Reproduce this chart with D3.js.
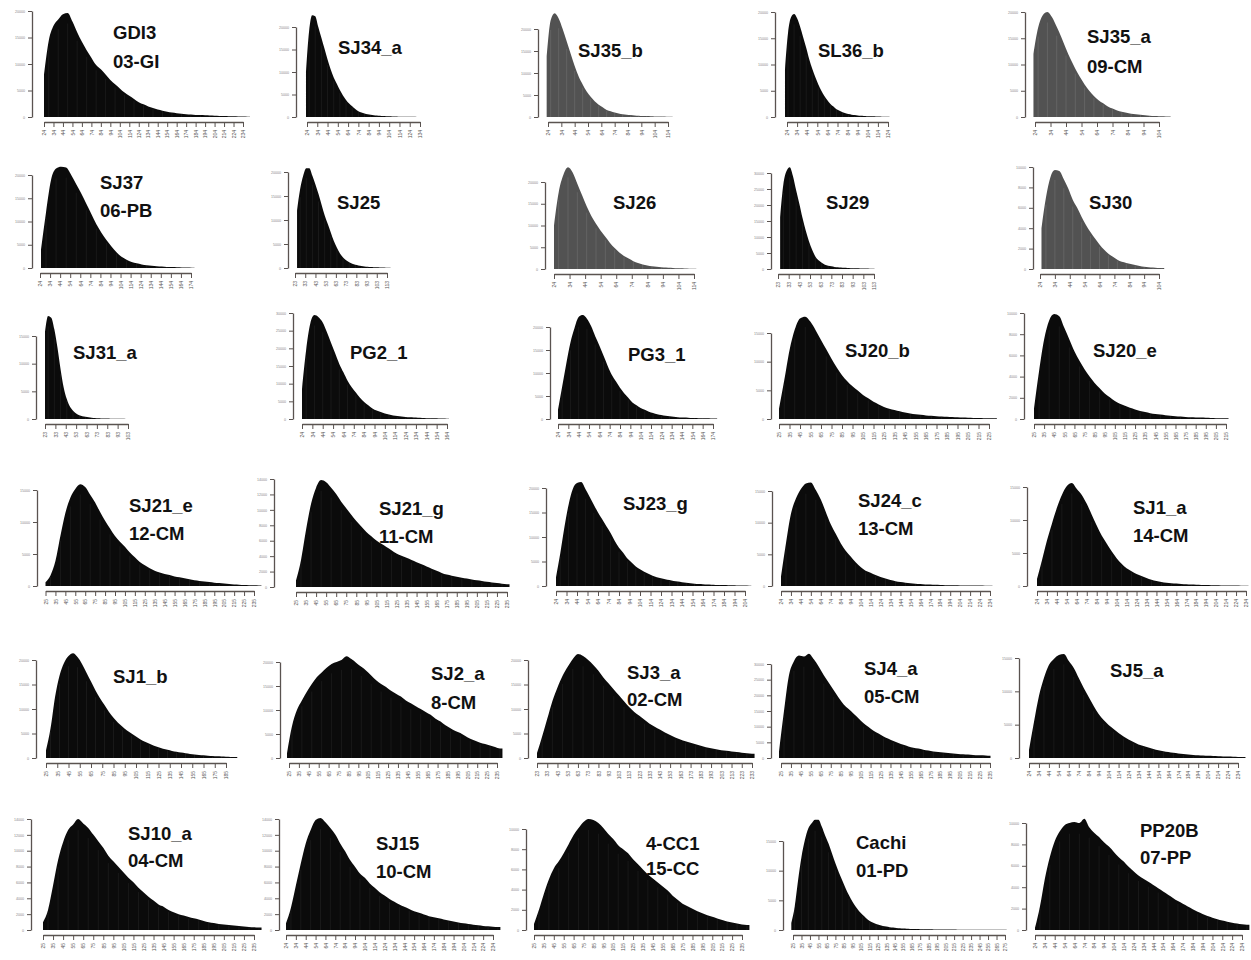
<!DOCTYPE html>
<html><head><meta charset="utf-8">
<script src="https://cdn.jsdelivr.net/npm/d3@7"></script>
<style>
html,body{margin:0;padding:0;background:#fff;}
svg{display:block;}
</style></head><body>
<svg id="chart" width="1251" height="960"></svg>
<script>
// ---------- categories ----------
const sampleNames = ["GDI3","SJ34_a","SJ35_b","SL36_b","SJ35_a","SJ37","SJ25","SJ26","SJ29","SJ30",
  "SJ31_a","PG2_1","PG3_1","SJ20_b","SJ20_e","SJ21_e","SJ21_g","SJ23_g","SJ24_c","SJ1_a",
  "SJ1_b","SJ2_a","SJ3_a","SJ4_a","SJ5_a","SJ10_a","SJ15","4-CC1","Cachi","PP20B"];
const sampleCodes = ["03-GI","","","","09-CM","06-PB","","","","",
  "","","","","","12-CM","11-CM","","13-CM","14-CM",
  "","8-CM","02-CM","05-CM","","04-CM","10-CM","15-CC","01-PD","07-PP"];

// ---------- x tick labels (read length) ----------
const ticks24_234 = [24,34,44,54,64,74,84,94,104,114,124,134,144,154,164,174,184,194,204,214,224,234];
const ticks25_235 = [25,35,45,55,65,75,85,95,105,115,125,135,145,155,165,175,185,195,205,215,225,235];
const ticks23_233 = [23,33,43,53,63,73,83,93,103,113,123,133,143,153,163,173,183,193,203,213,223,233];
const ticks25_225 = [25,35,45,55,65,75,85,95,105,115,125,135,145,155,165,175,185,195,205,215,225];
const ticks25_215 = [25,35,45,55,65,75,85,95,105,115,125,135,145,155,165,175,185,195,205,215];
const ticks24_204 = [24,34,44,54,64,74,84,94,104,114,124,134,144,154,164,174,184,194,204];
const ticks25_185 = [25,35,45,55,65,75,85,95,105,115,125,135,145,155,165,175,185];
const ticks24_174 = [24,34,44,54,64,74,84,94,104,114,124,134,144,154,164,174];
const ticks24_164 = [24,34,44,54,64,74,84,94,104,114,124,134,144,154,164];
const ticks24_134 = [24,34,44,54,64,74,84,94,104,114,124,134];
const ticks24_124 = [24,34,44,54,64,74,84,94,104,114,124];
const ticks24_114 = [24,34,44,54,64,74,84,94,104,114];
const ticks23_113 = [23,33,43,53,63,73,83,93,103,113];
const ticks24_104 = [24,34,44,54,64,74,84,94,104];
const ticks23_103 = [23,33,43,53,63,73,83,93,103];
const ticks25_275 = [25,35,45,55,65,75,85,95,105,115,125,135,145,155,165,175,185,195,205,215,225,235,245,255,265,275];

// ---------- y tick labels (read counts) ----------
const yLabels4 = ["0","5000","10000","15000"];
const yLabels5 = ["0","5000","10000","15000","20000"];
const yLabels6 = ["0","2000","4000","6000","8000","10000"];
const yLabels7 = ["0","5000","10000","15000","20000","25000","30000"];
const yLabels8 = ["0","2000","4000","6000","8000","10000","12000","14000"];

// ---------- series: first read length of each bin, bin width ----------
const binStart = [24,23,23,22,23,25,25,24,25,25, 23,24,24,25,25,25,25,24,24,24, 25,23,23,23,24,25,24,25,23,24];
const binStep  = [5,3,3,3,3,5,3,3,3,3, 3,4,4,5,5,5,5,4,5,5, 4,5,5,5,5,5,5,5,4,5];

// ---------- series values (% of the top y tick) ----------
const vGDI3  = [40,72,86,92,97,98,90,80,71,63,56,49,45,40,35,31,27,23,20,17,14,12,10,8.5,7,6,5,4.2,3.6,3.1,2.7,2.3,2,1.8,1.6,1.4,1.2,1,0.9,0.8,0.6,0.5,0.4,0.3];
const vSJ34a = [50,95,113,112,100,88,76,64,53,44,37,30,24,19,15,12,9,6.5,5,4,3,2.5,2,1.6,1.3,1,0.9,0.8,0.6,0.5,0.4,0.35,0.3,0.25,0.2,0.15,0.1,0.1];
const vSJ35b = [69,110,118,112,100,86,72,58,46,37,29,23,18,14,11,8,6.5,5,4,3.2,2.6,2.2,1.8,1.5,1.2,1,0.9,0.7,0.6,0.5,0.4,0.3];
const vSL36b = [45,80,95,98,94,86,76,66,55,46,38,31,25,20,16,12.5,10,7.5,6,4.5,3.5,2.8,2.2,1.8,1.5,1.2,1,0.8,0.7,0.6,0.5,0.4,0.3,0.3,0.2];
const vSJ35a = [60,85,97,100,95,86,76,65,55,46,38,31,25,20,16,13,10,8,6.3,5,4,3.2,2.6,2.1,1.7,1.3,1,0.8,0.6,0.4];
const vSJ37  = [20,60,95,107,109,108,100,90,80,69,58,47,38,30,23,17,12,9,6.5,5,3.8,3,2.3,1.8,1.5,1.2,1,0.8,0.6,0.5,0.4];
const vSJ25  = [60,82,96,104,104,96,87,77,66,55,46,37,28,21,15,11,8,6,4.5,3.3,2.6,2,1.6,1.3,1,0.8,0.7,0.5,0.4,0.3,0.2];
const vSJ26  = [50,88,108,117,111,98,85,72,61,52,44,37,30,24,19,15,12,9,7,5.3,4,3.2,2.5,2,1.6,1.3,1,0.8,0.6,0.4,0.3];
const vSJ29  = [54,88,102,106,97,82,68,53,40,29,20,13,9,6.5,4.5,3.5,2.8,2.2,1.8,1.5,1.2,1,0.9,0.8,0.7,0.6,0.5,0.4,0.3,0.2];
const vSJ30  = [40,70,90,97,96,88,79,68,60,51,43,36,30,24,19,15,12,9,7,6,4.8,3.8,3,2.3,1.8,1.4,1.1,0.9];
const vSJ31a = [105,124,122,108,86,60,38,24,15,10,6.5,4.5,3.3,2.6,2,1.5,1.2,0.9,0.7,0.6,0.5,0.4,0.3,0.3,0.2,0.2,0.1];
const vPG21  = [28,65,90,98,96,91,82,72,62,52,44,36,30,25,20,16,13,10,8,6.5,5.2,4.2,3.4,2.8,2.3,1.9,1.6,1.4,1.2,1,0.8,0.7,0.6,0.5,0.4,0.3];
const vPG31  = [10,35,60,83,99,111,113,109,101,90,80,69,58,48,41,34,28,23,18,15,12,10,8,6.5,5.2,4.3,3.5,2.9,2.4,2,1.7,1.5,1.2,1,0.9,0.8,0.7,0.6,0.5];
const vSJ20b = [12,45,80,104,117,119,113,103,92,81,70,60,51,44,38,33,28,24,20,17,14,12,10.5,9,7.5,6.5,5.5,4.8,4.2,3.7,3.2,2.8,2.5,2.2,1.9,1.6,1.4,1.2,1.1,1,0.9,0.8];
const vSJ20e = [10,45,75,93,99,97,86,75,64,55,47,40,34,29,24,20.5,17,14.5,12.5,10.5,9,7.5,6.5,5.5,4.8,4.2,3.6,3.1,2.7,2.3,2,1.7,1.5,1.3,1.1,0.9,0.8,0.7,0.6];
const vSJ21e = [4,11,26,52,76,92,101,106,103,95,87,77,68,60,52,46,41,35,30,25,21.5,18.5,16,14,12.5,11.5,10,9,8,7,6,5.3,4.7,4.1,3.5,3,2.5,2,1.6,1.4,1.1,0.9,0.7,0.6];
const vSJ21g = [6,25,53,77,92,99,97,92,86,79,73,67,61,56,51,47,43,40,37,34,31,29,27,25,23,21,19,17,15,13,11.5,10.5,9.5,8.5,7.8,7,6.3,5.6,4.8,4.2,3.6,3,2.6];
const vSJ23g = [9,33,60,83,99,105,106,99,91,83,75,68,61,54,46,39,34,28,24,20,17,14.5,12.5,10.5,9,7.8,6.8,6,5.2,4.5,3.9,3.3,2.8,2.4,2,1.8,1.5,1.3,1.1,1,0.9,0.8,0.7,0.6,0.5,0.4,0.3];
const vSJ24c = [10,45,76,92,102,108,109,101,91,78,65,55,45,37,31,25,20,16,14,11.5,9.5,7.8,6.3,5.1,4.2,3.5,2.9,2.4,2,1.7,1.5,1.2,1,0.9,0.8,0.7,0.6,0.5,0.5,0.4,0.4,0.3,0.3];
const vSJ1a  = [7,26,46,63,79,92,101,104,98,92,83,72,61,51,43,35,28,22.5,18,15,12,10,8,6.3,5,4,3.3,2.8,2.4,2,1.7,1.4,1.2,1,0.9,0.8,0.7,0.6,0.5,0.5,0.4,0.3,0.3];
const vSJ1b  = [8,30,62,84,97,104,107,103,96,87,78,69,61,54,47,41,36,32,28,25,22,19,16.5,14.5,12.5,11,9.5,8.3,7.2,6.3,5.5,4.8,4.2,3.6,3.1,2.7,2.3,2,1.7,1.5,1.3,1.1,0.9];
const vSJ2a  = [5,33,50,60,69,77,84,89,94,98,100,102,106,103,99,95,91,86,81,77,74,70,67,64,60,57,54,51,48,45,41,38,34,31,28,26,23,20,18,16,14.5,13,11.5,10];
const vSJ3a  = [5,22,40,58,72,84,93,101,106,104,100,95,89,82,76,70,64,58,52,47,43,39,35,32,29,26,23.5,21,19,17,15.5,14,12.5,11,10,9,8,7.3,6.6,6,5.4,4.8,4.3];
const vSJ4a  = [7,50,88,103,109,108,111,105,97,88,80,72,64,57,52,47,42,37,33,29,26,23,20.5,18,16,14,12.3,11,10,8.8,7.9,7,6.4,5.8,5.2,4.8,4.3,3.9,3.6,3.3,3,2.8,2.5];
const vSJ5a  = [8,36,62,80,93,99,103,104,97,90,80,70,61,52,44,38,33,29,25,21.5,18.5,16,13.5,12,10.5,9,7.8,6.8,6,5.2,4.6,4,3.5,3.1,2.8,2.5,2.2,2,1.8,1.6,1.4,1.2,1.1,1];
const vSJ10a = [7,18,40,63,79,90,95,100,96,92,86,80,74,67,62,57,52,47,43,38,34,30,26.5,23,21,18,16,14.3,13,11.6,10.5,9.4,8.2,7,6.2,5.5,5,4.4,4,3.5,3.1,2.8,2.5,2.2];
const vSJ15  = [6,20,40,60,78,90,99,101,97,92,86,78,71,63,57,51,47,42,38,34,31,28,25.5,23,21,19,17,15.5,14,12.5,11.5,10.5,9.5,8.5,7.6,6.8,6,5.4,4.8,4.2,3.7,3.3,3,2.8];
const v4CC1  = [6,20,36,50,61,68,76,85,94,101,107,110,109,106,101,95,90,84,80,76,70,65,60,55,51,47,43,39,34,30,26,23.5,21,18.5,16.5,14.5,13,11.5,10,8.5,7.5,6.5,5.5,5];
const vCachi = [8,26,56,82,101,114,120,124,124,116,106,97,86,75,65,56,47,39,32,26,21,17,13.5,10.5,8.3,6.8,5.5,4.5,3.8,3.2,2.7,2.2,1.9,1.6,1.4,1.2,1.1,1,0.9,0.85,0.8,0.75,0.7,0.65,0.6,0.55,0.5,0.48,0.45,0.42,0.4,0.38,0.35,0.33,0.3,0.28,0.26,0.24,0.22,0.2,0.2,0.18,0.16,0.15];
const vPP20B = [2,22,48,68,83,92,98,100,101,100,104,96,91,87,82,78,73,68,64,59,55,51,48,45,42,39,36,33,30,27,24.5,22,19.5,17,15,13,11.5,10,8.8,7.8,6.8,6,5.3,4.8];

const seriesValues = [vGDI3,vSJ34a,vSJ35b,vSL36b,vSJ35a,vSJ37,vSJ25,vSJ26,vSJ29,vSJ30,
  vSJ31a,vPG21,vPG31,vSJ20b,vSJ20e,vSJ21e,vSJ21g,vSJ23g,vSJ24c,vSJ1a,
  vSJ1b,vSJ2a,vSJ3a,vSJ4a,vSJ5a,vSJ10a,vSJ15,v4CC1,vCachi,vPP20B];
const xTicks = [ticks24_234,ticks24_134,ticks24_114,ticks24_124,ticks24_104,ticks24_174,ticks23_113,ticks24_114,ticks23_113,ticks24_104,
  ticks23_103,ticks24_164,ticks24_174,ticks25_225,ticks25_215,ticks25_235,ticks25_235,ticks24_204,ticks24_234,ticks24_234,
  ticks25_185,ticks25_235,ticks23_233,ticks25_235,ticks24_234,ticks25_235,ticks24_234,ticks25_235,ticks25_275,ticks24_234];
const yLabels = [yLabels5,yLabels5,yLabels5,yLabels5,yLabels5,yLabels5,yLabels5,yLabels5,yLabels7,yLabels6,
  yLabels4,yLabels7,yLabels5,yLabels4,yLabels6,yLabels4,yLabels8,yLabels5,yLabels4,yLabels4,
  yLabels5,yLabels5,yLabels5,yLabels7,yLabels4,yLabels8,yLabels8,yLabels6,yLabels4,yLabels6];
const greySamples = ["SJ35_b","SJ35_a","SJ26","SJ30"];

// ---------- panel layout (pixels) ----------
const layout = [
  {ax:32,  top:11,  base:117, x0:44,   x1:243,  tx:113,  ty:[32,61]},
  {ax:296, top:27,  base:117, x0:307,  x1:420,  tx:338,  ty:[47]},
  {ax:538, top:29,  base:117, x0:548,  x1:668,  tx:578,  ty:[50]},
  {ax:775, top:12,  base:117, x0:787,  x1:888,  tx:818,  ty:[50]},
  {ax:1025,top:12,  base:117, x0:1035, x1:1159, tx:1087, ty:[36,66]},

  {ax:32,  top:175, base:268, x0:40,   x1:191,  tx:100,  ty:[182,210]},
  {ax:288, top:172, base:268, x0:295,  x1:387,  tx:337,  ty:[202]},
  {ax:545, top:182, base:269, x0:554,  x1:694,  tx:613,  ty:[202]},
  {ax:771, top:173, base:269, x0:778,  x1:874,  tx:826,  ty:[202]},
  {ax:1033,top:167, base:269, x0:1040, x1:1159, tx:1089, ty:[202]},

  {ax:36,  top:336, base:419, x0:45,   x1:128,  tx:73,   ty:[352]},
  {ax:293, top:313, base:419, x0:302,  x1:447,  tx:350,  ty:[352]},
  {ax:550, top:327, base:419, x0:558,  x1:713,  tx:628,  ty:[354]},
  {ax:771, top:333, base:419, x0:779,  x1:989,  tx:845,  ty:[350]},
  {ax:1024,top:313, base:419, x0:1034, x1:1226, tx:1093, ty:[350]},

  {ax:37,  top:490, base:586, x0:45.5, x1:254,  tx:129,  ty:[505,533]},
  {ax:274, top:479, base:587, x0:296,  x1:507,  tx:379,  ty:[508,536]},
  {ax:546, top:488, base:586, x0:556,  x1:745,  tx:623,  ty:[503]},
  {ax:772, top:491, base:586, x0:781,  x1:990,  tx:858,  ty:[500,528]},
  {ax:1027,top:487, base:586, x0:1037, x1:1246, tx:1133, ty:[507,535]},

  {ax:36,  top:660, base:758, x0:46,   x1:226,  tx:113,  ty:[676]},
  {ax:280, top:662, base:758, x0:289,  x1:497,  tx:431,  ty:[673,702]},
  {ax:528, top:660, base:758, x0:537,  x1:752,  tx:627,  ty:[672,699]},
  {ax:771, top:664, base:758, x0:781,  x1:990,  tx:864,  ty:[668,696]},
  {ax:1019,top:658, base:758, x0:1029, x1:1238, tx:1110, ty:[670]},

  {ax:31,  top:819, base:930, x0:43,   x1:254,  tx:128,  ty:[833,860]},
  {ax:279, top:819, base:930, x0:286,  x1:493,  tx:376,  ty:[843,871]},
  {ax:526, top:829, base:930, x0:534,  x1:742,  tx:646,  ty:[843,868]},
  {ax:783, top:841, base:930, x0:793,  x1:1005, tx:856,  ty:[842,870]},
  {ax:1026,top:823, base:930, x0:1035, x1:1242, tx:1140, ty:[830,857]}
];

const svg = d3.select("#chart");
svg.append("rect").attr("width",1251).attr("height",960).attr("fill","#fff");

sampleNames.forEach((name, i) => {
  const L = layout[i];
  const vals = seriesValues[i];
  const start = binStart[i], step = binStep[i];
  const ticks = xTicks[i];
  const labs = yLabels[i];
  const g = svg.append("g").attr("class","panel");

  const xs = d3.scaleLinear().domain([ticks[0], ticks[ticks.length-1]]).range([L.x0, L.x1]);
  const ys = d3.scaleLinear().domain([0,100]).range([L.base, L.top]);
  const grey = greySamples.includes(name);
  const fill = grey ? "#525252" : "#0b0b0b";

  // histogram silhouette through bin centres, vertical edge at the right end
  const pts = vals.map((v, j) => ({len: start + j*step, v}));
  const outline = [...pts, {len: pts[pts.length-1].len + step/2, v: vals[vals.length-1]}];
  const area = d3.area().x(d => xs(d.len)).y0(ys(0)).y1(d => ys(d.v)).curve(d3.curveMonotoneX);
  g.append("path").datum(outline).attr("d", area).attr("fill", fill);

  // faint bar-border lines inside the bars
  g.append("g").selectAll("line").data(pts.filter((d, j) => j % 2 === 1)).join("line")
    .attr("x1", d => xs(d.len)).attr("x2", d => xs(d.len))
    .attr("y1", ys(0)).attr("y2", d => ys(d.v * 0.9))
    .attr("stroke", "#fff").attr("stroke-opacity", grey ? 0.18 : 0.1).attr("stroke-width", 0.6);

  // y axis
  const n = labs.length;
  const yTickVals = d3.range(n).map(k => k*100/(n-1));
  const yAxis = d3.axisLeft(ys).tickValues(yTickVals).tickFormat((d,k) => labs[k]).tickSize(4).tickSizeOuter(0);
  const ya = g.append("g").attr("transform", `translate(${L.ax},0)`).call(yAxis);
  ya.select(".domain").attr("stroke","#5a5350").attr("stroke-width",1.3);
  ya.selectAll(".tick line").attr("stroke","#5a5350").attr("stroke-width",1);
  ya.selectAll(".tick text").attr("font-size",3.6).attr("fill","#888").attr("font-family","Liberation Sans, Arial, sans-serif").attr("x",-7);

  // x axis
  const xAxis = d3.axisBottom(xs).tickValues(ticks).tickSize(5).tickSizeOuter(0).tickFormat(d3.format("d"));
  const xa = g.append("g").attr("transform", `translate(0,${L.base+5})`).call(xAxis);
  xa.select(".domain").attr("stroke","#5a5350").attr("stroke-width",1.3);
  xa.selectAll(".tick line").attr("stroke","#5a5350").attr("stroke-width",1);
  xa.selectAll(".tick text")
    .attr("font-size",5).attr("fill","#555").attr("font-family","Liberation Sans, Arial, sans-serif")
    .attr("transform","rotate(-90)").attr("x",-8).attr("y",0).attr("dy","0.35em")
    .style("text-anchor","end");

  // title
  const lines = [name, sampleCodes[i]].filter(s => s !== "");
  lines.forEach((t, k) => {
    g.append("text").attr("x", L.tx).attr("y", L.ty[k] + 6.5)
      .attr("font-family","Liberation Sans, Arial, sans-serif").attr("font-weight","bold")
      .attr("font-size",18.5).attr("fill","#111").text(t);
  });
});
</script>
</body></html>
